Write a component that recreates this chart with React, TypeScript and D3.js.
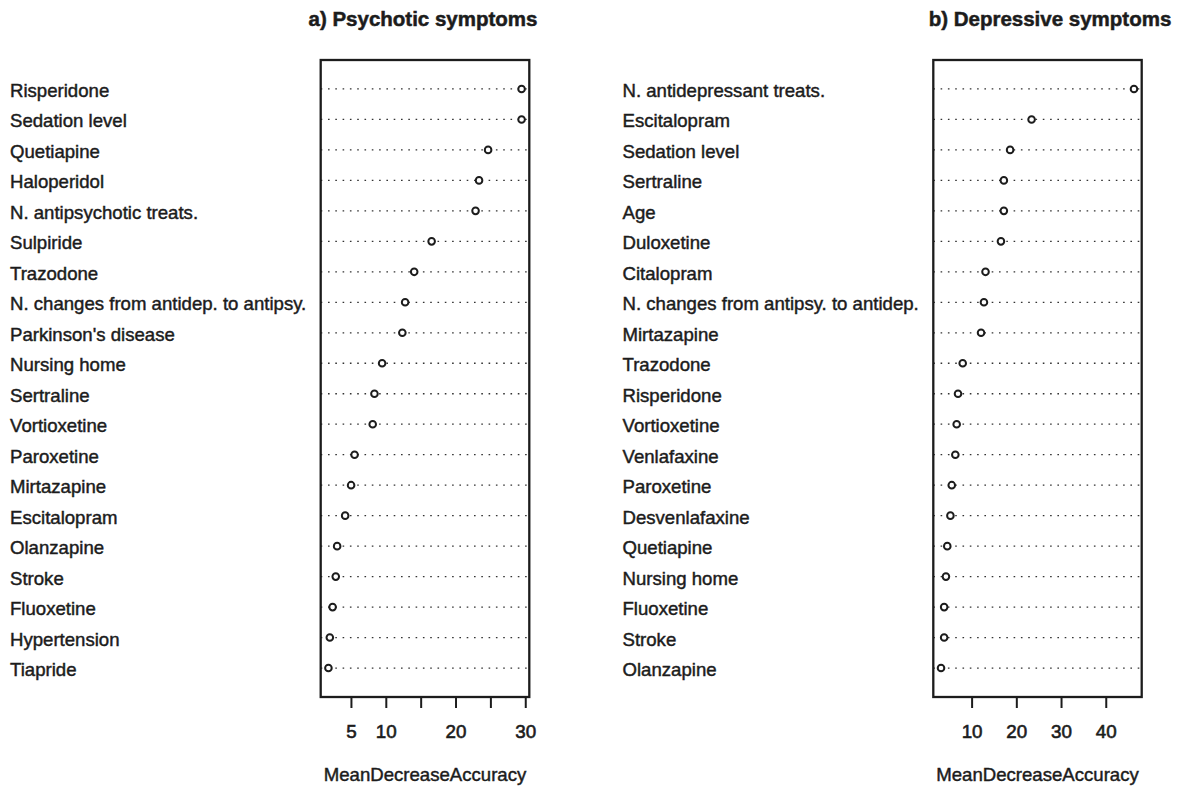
import React from "react";
import * as d3 from "d3";

// Variable importance (MeanDecreaseAccuracy), ordered from most to least important
const psychoticVars = [
  "Risperidone",
  "Sedation level",
  "Quetiapine",
  "Haloperidol",
  "N. antipsychotic treats.",
  "Sulpiride",
  "Trazodone",
  "N. changes from antidep. to antipsy.",
  "Parkinson's disease",
  "Nursing home",
  "Sertraline",
  "Vortioxetine",
  "Paroxetine",
  "Mirtazapine",
  "Escitalopram",
  "Olanzapine",
  "Stroke",
  "Fluoxetine",
  "Hypertension",
  "Tiapride",
];
const psychoticValues = [
  29.4, 29.4, 24.6, 23.3, 22.8, 16.5, 14.0, 12.7, 12.3, 9.4, 8.3, 8.05, 5.45,
  4.95, 4.1, 2.95, 2.75, 2.3, 1.9, 1.7,
];
const psychoticTicks = [5, 10, 15, 20, 25, 30];
const psychoticTickLabels = [5, 10, 20, 30];

const depressiveVars = [
  "N. antidepressant treats.",
  "Escitalopram",
  "Sedation level",
  "Sertraline",
  "Age",
  "Duloxetine",
  "Citalopram",
  "N. changes from antipsy. to antidep.",
  "Mirtazapine",
  "Trazodone",
  "Risperidone",
  "Vortioxetine",
  "Venlafaxine",
  "Paroxetine",
  "Desvenlafaxine",
  "Quetiapine",
  "Nursing home",
  "Fluoxetine",
  "Stroke",
  "Olanzapine",
];
const depressiveValues = [
  46.2, 23.3, 18.5, 17.1, 17.1, 16.45, 13.0, 12.65, 12.0, 7.9, 6.85, 6.55,
  6.25, 5.45, 5.15, 4.45, 4.15, 3.75, 3.75, 3.05,
];
const depressiveTicks = [10, 20, 30, 40];
const depressiveTickLabels = [10, 20, 30, 40];

const FONT = "'Liberation Sans', Arial, Helvetica, sans-serif";
const INK = "#1c1c1c";

type PanelProps = {
  title: string;
  titleX: number;
  vars: string[];
  values: number[];
  ticks: number[];
  tickLabels: number[];
  labelX: number;
  boxLeft: number;
  boxRight: number;
};

const boxTop = 60;
const boxBottom = 697;

// slightly heavier strokes on the regular-weight text
const textInk = { fill: INK, stroke: INK, strokeWidth: 0.45 };

function DotPanel({
  title,
  titleX,
  vars,
  values,
  ticks,
  tickLabels,
  labelX,
  boxLeft,
  boxRight,
}: PanelProps) {
  // dotchart-style x range: data extent widened by 4% on each side
  const [lo, hi] = d3.extent(values) as [number, number];
  const pad = (hi - lo) * 0.04;
  const x = d3
    .scaleLinear()
    .domain([lo - pad, hi + pad])
    .range([boxLeft, boxRight]);
  const y = d3
    .scalePoint<string>()
    .domain(vars)
    .range([boxTop, boxBottom])
    .padding(0.95);
  const cx = (boxLeft + boxRight) / 2;

  return (
    <g fontFamily={FONT} fill={INK}>
      <text
        x={titleX}
        y={26}
        textAnchor="middle"
        fontSize={20.5}
        fontWeight="bold"
        {...textInk}
        strokeWidth={0.5}
      >
        {title}
      </text>

      {vars.map((v, i) => {
        const yy = y(v) as number;
        return (
          <g key={v}>
            <text x={labelX} y={yy + 8} fontSize={18.6} {...textInk}>
              {v}
            </text>
            <line
              x1={boxLeft}
              x2={boxRight}
              y1={yy}
              y2={yy}
              stroke="#333"
              strokeWidth={1.3}
              strokeDasharray="1.6 5.7"
            />
            <circle
              cx={x(values[i])}
              cy={yy}
              r={3.3}
              fill="#fff"
              stroke={INK}
              strokeWidth={2}
            />
          </g>
        );
      })}

      <rect
        x={boxLeft}
        y={boxTop}
        width={boxRight - boxLeft}
        height={boxBottom - boxTop}
        fill="none"
        stroke={INK}
        strokeWidth={2.3}
      />

      {ticks.map((t) => (
        <line
          key={t}
          x1={x(t)}
          x2={x(t)}
          y1={boxBottom}
          y2={boxBottom + 11}
          stroke={INK}
          strokeWidth={2}
        />
      ))}
      {tickLabels.map((t) => (
        <text
          key={t}
          x={x(t)}
          y={738}
          textAnchor="middle"
          fontSize={18.8}
          {...textInk}
          strokeWidth={0.6}
        >
          {t}
        </text>
      ))}

      <text x={cx} y={781} textAnchor="middle" fontSize={18.6} {...textInk}>
        MeanDecreaseAccuracy
      </text>
    </g>
  );
}

export default function App() {
  return (
    <svg
      width={1180}
      height={788}
      style={{ position: "absolute", left: 0, top: 0, background: "#fff" }}
    >
      <rect width={1180} height={788} fill="#fff" />
      <DotPanel
        title="a) Psychotic symptoms"
        titleX={423}
        vars={psychoticVars}
        values={psychoticValues}
        ticks={psychoticTicks}
        tickLabels={psychoticTickLabels}
        labelX={10}
        boxLeft={320.7}
        boxRight={529.3}
      />
      <DotPanel
        title="b) Depressive symptoms"
        titleX={1050}
        vars={depressiveVars}
        values={depressiveValues}
        ticks={depressiveTicks}
        tickLabels={depressiveTickLabels}
        labelX={622.5}
        boxLeft={933.3}
        boxRight={1141.7}
      />
    </svg>
  );
}
